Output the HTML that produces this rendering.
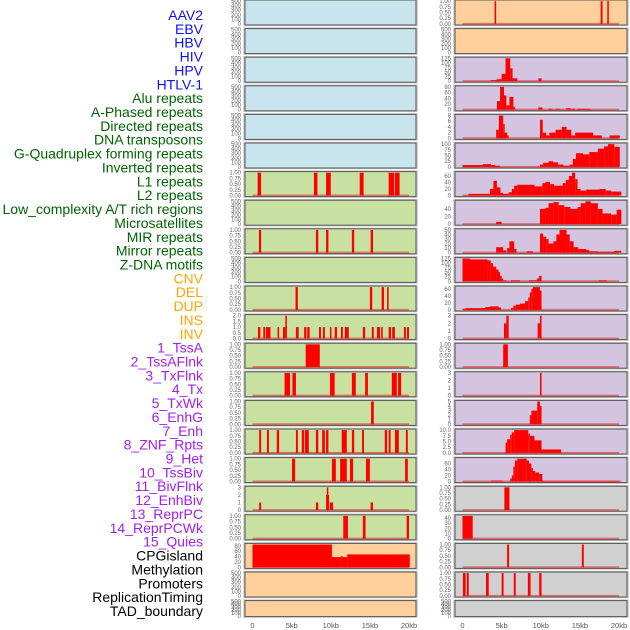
<!DOCTYPE html>
<html><head><meta charset="utf-8"><style>
html,body{margin:0;padding:0;background:#fff;width:630px;height:630px;overflow:hidden}
svg{display:block}
</style></head><body>
<svg id="chart" width="630" height="630" xmlns="http://www.w3.org/2000/svg" font-family="Liberation Sans, sans-serif"></svg>
<script>
const labels = ["AAV2","EBV","HBV","HIV","HPV","HTLV-1","Alu repeats","A-Phased repeats","Directed repeats","DNA transposons","G-Quadruplex forming repeats","Inverted repeats","L1 repeats","L2 repeats","Low_complexity A/T rich regions","Microsatellites","MIR repeats","Mirror repeats","Z-DNA motifs","CNV","DEL","DUP","INS","INV","1_TssA","2_TssAFlnk","3_TxFlnk","4_Tx","5_TxWk","6_EnhG","7_Enh","8_ZNF_Rpts","9_Het","10_TssBiv","11_BivFlnk","12_EnhBiv","13_ReprPC","14_ReprPCWk","15_Quies","CPGisland","Methylation","Promoters","ReplicationTiming","TAD_boundary"];
const groupOfLabel = [0,0,0,0,0,0,1,1,1,1,1,1,1,1,1,1,1,1,1,2,2,2,2,2,3,3,3,3,3,3,3,3,3,3,3,3,3,3,3,4,4,4,4,4];
const xTickLabels = ["0","5kb","10kb","15kb","20kb"];
const xTickValues = [0,5,10,15,20];
const emptyTicks = [0,100,200,300,400,500];
const ticks01 = [0,0.25,0.5,0.75,1];

// segments: [startKb, endKb, value]
const dAlu = [[0.66,1.09,1],[7.85,8.3,1],[9.4,10,1],[13.7,14.2,1],[17.4,18.1,1],[18.2,18.8,1]];
const dDirected = [[0.83,1.1,1],[8.1,8.4,1],[9.4,9.7,1],[12.7,13,1],[15.1,15.4,1]];
const dGQuad = [[5.5,5.8,1],[15.0,15.3,1],[16.5,16.8,1],[17.2,17.4,1]];
const dInverted = [[0.7,1.0,1],[1.38,1.6,1],[1.7,2.3,1],[3.2,3.4,1],[3.9,4.2,1],[4.2,4.4,2],[5.55,5.9,1],[6.6,6.9,1],[7.0,7.3,1],[8.5,8.75,1],[9.0,9.25,1],[9.9,10.05,1],[10.5,10.8,1],[11.3,11.55,1],[11.8,12.3,1],[14.1,14.4,1],[15.25,15.5,1],[15.9,16.3,1],[16.45,16.65,1],[17.4,17.7,1],[17.85,18.2,1],[19.35,19.6,1],[19.75,20.0,1]];
const dL1 = [[6.8,8.6,1]];
const dL2 = [[4.1,4.8,1],[5.1,5.55,1],[9.9,10.5,1],[12.7,13.2,1],[14.4,14.75,1],[17.8,18.45,1],[18.6,19.0,1]];
const dLowComplex = [[15.15,15.5,1]];
const dMicrosat = [[0.85,1.1,1],[1.85,2.1,1],[3.1,3.4,1],[5.55,5.8,1],[6.3,6.6,1],[6.7,7.2,1],[8.1,8.4,1],[8.9,9.25,1],[9.4,9.7,1],[11.4,12.05,1],[12.7,13,1],[14.0,14.25,1],[16.9,17.2,1],[17.4,17.65,1],[18.2,18.7,1],[19.6,19.85,1]];
const dMIR = [[5.05,5.45,1],[10.15,10.65,1],[11.2,12.05,1],[12.45,12.85,1],[14.5,15.0,1],[19.5,19.85,1]];
const dMirror = [[0.85,1.1,1],[8.1,8.4,1],[9.4,9.5,2],[9.5,9.6,3],[9.6,9.7,2],[9.9,10.3,1],[15.1,15.4,1]];
const dZDNA = [[11.6,11.9,1],[11.9,12.2,1],[14.1,14.45,1],[19.7,20.0,1]];
const dCNV = [[0,10.15,85],[10.15,11.3,38],[11.3,11.5,42],[11.5,12.1,38],[12.1,20.1,48]];
const dINS = [[4.1,4.3,1],[17.65,17.9,1],[18.5,18.7,1]];
const dTssA = [[3.6,4.35,5],[4.35,5.0,10],[5.0,5.5,40],[5.5,6.1,125],[6.1,6.4,70],[6.4,7.0,15],[9.7,10.1,15]];
const dTssAFlnk = [[4.4,4.8,30],[4.8,5.3,80],[5.3,5.6,50],[5.6,6.0,15],[6.0,6.5,45],[6.5,6.7,10],[9.7,10.2,8],[11.0,11.5,3],[11.9,12.5,3],[13.2,13.8,5],[13.8,14.4,3],[14.7,16.3,3]];
const dTxFlnk = [[4.3,4.65,3],[4.65,5.2,8],[5.2,5.3,5],[5.3,5.7,2],[5.7,5.9,1],[9.9,10.25,6.5],[10.25,10.7,2],[10.7,11.1,1],[11.1,11.9,2],[11.9,12.7,3],[12.7,13.3,4],[13.3,13.9,3],[13.9,14.4,1],[14.4,16.7,2],[16.7,17.8,1],[18.8,20.1,1]];
const dTx = [[0,2.6,8],[2.6,3.65,12],[3.65,4.2,8],[4.2,4.8,5],[9.9,10.3,10],[10.3,11.0,18],[11.0,11.6,25],[11.6,12.2,20],[12.2,12.9,10],[12.9,13.7,5],[13.7,14.1,10],[14.1,14.5,35],[14.5,15.4,60],[15.4,16.2,55],[16.2,17.3,65],[17.3,18.1,80],[18.1,18.6,90],[18.6,19.4,100],[19.4,20.1,88]];
const dTxWk = [[0.75,3.5,5],[3.5,3.95,20],[3.95,4.4,45],[4.4,4.85,25],[4.85,5.2,8],[5.2,5.9,5],[5.9,6.3,10],[6.3,6.6,20],[6.6,7.0,30],[7.0,9.2,33],[9.2,10.2,28],[10.2,10.6,38],[10.6,11.2,42],[11.2,11.7,35],[11.7,12.8,30],[12.8,13.2,38],[13.2,13.6,48],[13.6,14.0,60],[14.0,14.4,70],[14.4,14.7,50],[14.7,15.1,20],[15.1,15.8,15],[15.8,17.5,18],[17.5,18.3,20],[18.3,19.0,15],[19.0,20.3,12]];
const dEnhG = [[4.3,5.0,6],[9.9,10.6,40],[10.6,11.0,43],[11.0,11.6,55],[11.6,12.3,58],[12.3,13.0,50],[13.0,13.8,45],[13.8,14.7,40],[14.7,15.1,45],[15.1,15.7,55],[15.7,16.4,60],[16.4,17.3,55],[17.3,17.9,40],[17.9,19.0,28],[19.0,19.7,25],[19.7,20.3,38]];
const dEnh = [[4.3,5.2,12],[5.2,5.6,5],[5.7,6.0,10],[6.0,6.6,25],[6.6,6.9,8],[8.2,9.0,3],[9.9,10.3,42],[10.3,10.7,35],[10.7,11.0,30],[11.0,11.6,20],[11.6,12.0,25],[12.0,12.4,40],[12.4,13.3,50],[13.3,13.7,40],[13.7,14.2,25],[14.2,14.8,12],[14.8,15.8,8],[15.8,16.2,6],[16.2,17.3,3],[17.3,19.4,2],[19.4,20.3,4]];
const dZNF = [[0,0.96,125],[0.96,3.2,120],[3.2,3.6,115],[3.6,3.9,100],[3.9,4.3,80],[4.3,4.6,65],[4.6,4.8,50],[4.8,5.0,30],[5.0,5.2,15],[5.2,5.6,5],[6.2,7.35,5],[8.5,9.5,5],[9.5,9.8,15],[9.8,10.1,30],[17.4,18.4,5]];
const dHet = [[0,0.4,3],[0.4,2.9,5],[2.9,3.5,8],[3.5,4.6,10],[4.6,4.9,7],[6.2,6.5,5],[6.5,6.8,12],[6.8,7.35,15],[7.35,8.0,18],[8.0,8.4,25],[8.4,8.6,35],[8.6,8.8,50],[8.8,9.0,60],[9.0,9.9,65],[9.9,10.1,55]];
const dTssBiv = [[5.3,5.6,2],[5.6,5.9,3],[9.6,9.9,2],[9.9,10.1,3]];
const dBivFlnk = [[5.2,5.8,1]];
const dEnhBiv = [[9.9,10.1,3]];
const dReprPC = [[8.6,8.8,2],[8.8,9.55,3],[9.55,9.9,5],[9.9,10.1,4]];
const dReprPCWk = [[5.5,5.7,4.5],[5.7,6.1,6],[6.1,6.3,8],[6.3,6.6,9],[6.6,8.4,10],[8.4,8.6,8.5],[8.6,9.2,7.5],[9.2,10.1,5.5],[10.1,12.6,1.5]];
const dQuies = [[3.64,5.1,3],[6.1,6.3,10],[6.3,6.5,20],[6.5,6.7,50],[6.7,7.0,70],[7.0,8.2,76],[8.2,8.5,70],[8.5,8.8,60],[8.8,9.0,45],[9.0,9.3,35],[9.3,9.8,30],[9.8,10.2,25],[10.2,20.3,2]];
const dCPG = [[5.35,6.0,1]];
const dMethyl = [[0,1.3,44]];
const dPromoters = [[5.7,5.95,1],[15.25,15.5,1]];
const dRepTiming = [[0.05,0.4,1],[0.55,0.8,1],[3.0,3.35,1],[5.0,5.25,1],[6.55,6.8,1],[8.35,8.7,1],[9.8,10.1,1]];

// panel definitions: [data, ymax, ticks]
const panelData = [
 [null,500,emptyTicks],[null,500,emptyTicks],[null,500,emptyTicks],[null,500,emptyTicks],[null,500,emptyTicks],[null,500,emptyTicks],
 [dAlu,1,ticks01],[null,500,emptyTicks],[dDirected,1,ticks01],[null,500,emptyTicks],[dGQuad,1,ticks01],[dInverted,2,[0,0.5,1,1.5,2]],
 [dL1,1,ticks01],[dL2,1,ticks01],[dLowComplex,1,ticks01],[dMicrosat,1,ticks01],[dMIR,1,ticks01],[dMirror,3,[0,1,2,3]],[dZDNA,1,ticks01],
 [dCNV,85,[0,20,40,60,80]],[null,500,emptyTicks],[null,500,emptyTicks],
 [dINS,1,ticks01],[null,500,emptyTicks],[dTssA,125,[0,25,50,75,100,125]],[dTssAFlnk,80,[0,20,40,60,80]],[dTxFlnk,8,[0,2,4,6,8]],
 [dTx,100,[0,25,50,75,100]],[dTxWk,70,[0,20,40,60]],[dEnhG,60,[0,20,40]],[dEnh,50,[0,10,20,30,40,50]],[dZNF,125,[0,25,50,75,100,125]],
 [dHet,65,[0,20,40,60]],[dTssBiv,3,[0,1,2,3]],[dBivFlnk,1,ticks01],[dEnhBiv,3,[0,1,2,3]],[dReprPC,5,[0,1,2,3,4,5]],[dReprPCWk,10,[0,2.5,5,7.5,10]],
 [dQuies,76,[0,20,40,60]],[dCPG,1,ticks01],[dMethyl,44,[0,10,20,30,40]],[dPromoters,1,ticks01],[dRepTiming,1,ticks01],[null,500,emptyTicks]
];
const bgColors = ["#c8e4ec","#c8e0a0","#ffd09c","#d4c4e0","#d0d0d0"];
const labelColors = ["#1010ff","#006400","#ffa500","#a020f0","#000000"];

const NS = "http://www.w3.org/2000/svg";
const svg = document.getElementById("chart");
function mk(tag, attrs, parent){const e=document.createElementNS(NS,tag);for(const k in attrs)e.setAttribute(k,attrs[k]);(parent||svg).appendChild(e);return e;}
const colX = [{left:245,right:416,x0:252.5},{left:455,right:627,x0:462.5}];
const KB = 7.825;
function xScale(col,kb){return colX[col].x0 + kb*KB;}
function fmt(v,ticks){const dec=ticks.some(t=>t%1!==0)?(ticks.includes(0.25)?2:1):0;return v.toFixed(dec);}

// labels
labels.forEach((t,i)=>{
  const e=mk("text",{x:203,y:15+i*13.86+5,"text-anchor":"end","font-size":"14",fill:labelColors[groupOfLabel[i]]});
  
  
  e.textContent=t;
});

panelData.forEach((p,i)=>{
  const col=i<22?0:1, row=i%22;
  const top=row*28.6, h=row===21?16:25;
  const c=colX[col];
  const g=mk("g",{});
  
  
  mk("rect",{x:c.left-1,y:top-0.5,width:c.right-c.left+2,height:h+1,fill:"none",stroke:"#ccc","stroke-width":1.5},g);
  mk("rect",{x:c.left,y:top,width:c.right-c.left,height:h,fill:bgColors[groupOfLabel[i]],stroke:"#555","stroke-width":1},g);
  const [data,ymax,ticks]=p;
  const lo=-0.05*ymax, hi=1.05*ymax;
  const yS=v=>top+h-(v-lo)/(hi-lo)*h;
  ticks.forEach(t=>{
    const e=mk("text",{x:c.left-4,y:yS(t)+2,"text-anchor":"end","font-size":"6",fill:"#666"},g);
    
    
    e.textContent=fmt(t,ticks);
  });
  if(data){
    mk("line",{x1:xScale(col,0),x2:xScale(col,20),y1:yS(0),y2:yS(0),stroke:"rgba(210,40,40,0.55)","stroke-width":2},g);
    data.forEach(s=>{
      const x1=xScale(col,s[0]), x2=xScale(col,s[1]);
      const r=mk("rect",{x:x1,y:yS(s[2]),width:Math.max(1.5,x2-x1),height:yS(0)-yS(s[2]),fill:"#ff0000"},g);
      
      
    });
  }
});

[0,1].forEach(col=>{
  xTickValues.forEach((v,j)=>{
    const e=mk("text",{x:xScale(col,v),y:628,"text-anchor":"middle","font-size":"7.5",fill:"#555"});
    
    
    e.textContent=xTickLabels[j];
  });
});
</script>
</body></html>
